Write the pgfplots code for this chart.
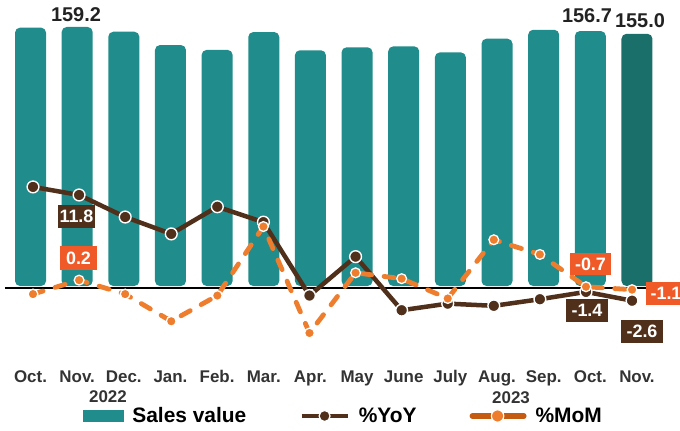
\documentclass[border=0pt]{standalone}
\usepackage{fontspec}
\setmainfont{Liberation Sans}
\usepackage{pgfplots}
\pgfplotsset{compat=1.18}
\definecolor{tealc}{RGB}{32,140,139}
\definecolor{tealdark}{RGB}{27,111,107}
\definecolor{brownc}{RGB}{80,48,27}
\definecolor{orangec}{RGB}{238,125,45}
\definecolor{lblorange}{RGB}{240,90,40}
\definecolor{legorange}{RGB}{197,90,17}
\definecolor{tickgray}{RGB}{51,51,51}
\definecolor{labelblack}{RGB}{34,34,34}
\begin{document}
\begin{tikzpicture}
\useasboundingbox (0,0) rectangle (680bp,431bp);
\begin{axis}[
  at={(7.2bp,71bp)}, anchor=south west, scale only axis, width=653.1bp, height=340bp,
  xmin=-0.5, xmax=13.5, ymin=-45.48, ymax=163.5,
  axis line style={draw=none}, major tick style={draw=none}, major tick length=0pt, ytick=\empty,
  xtick={0,...,13},
  xticklabels={Oct.,Nov.,Dec.,Jan.,Feb.,Mar.,Apr.,May,June,July,Aug.,Sep.,Oct.,Nov.},
  xticklabel style={anchor=base, yshift=-23bp, font=\bfseries\fontsize{17}{17}\selectfont, text=tickgray, inner sep=0pt},
  clip=false,
]
\addplot[ybar, bar width=0.665, bar shift=0pt, fill=tealc, draw=none, rounded corners=5bp] coordinates {
(0,158.8) (1,159.2) (2,156.3) (3,148.1) (4,145.1) (5,156.1) (6,144.9) (7,146.7) (8,147.3) (9,143.6) (10,152.0) (11,157.5) (12,156.7)};
\addplot[ybar, bar width=0.665, bar shift=0pt, fill=tealdark, draw=none, rounded corners=5bp] coordinates {(13,155.0)};
\draw[black, line width=2bp] (axis cs:-0.55,-1) -- (axis cs:13.5,-1);
\end{axis}
\begin{axis}[
  at={(7.2bp,71bp)}, anchor=south west, scale only axis, width=653.1bp, height=340bp,
  xmin=-0.56, xmax=13.613, ymin=-10.68, ymax=35.64,
  hide axis, clip=false,
  legend columns=3, legend cell align=left,
  legend style={at={(0.116,-0.1647)}, anchor=west, draw=none, fill=none, inner sep=0pt, outer sep=0pt,
    font=\bfseries\fontsize{21}{21}\selectfont, text=black, nodes={inner sep=0pt},
    /tikz/every odd column/.append style={column sep=9bp},
    /tikz/every even column/.append style={column sep=53bp}},
]
\addlegendimage{legend image code/.code={\fill[tealc] (0bp,-5.5bp) rectangle (40bp,5.5bp);}}
\addlegendentry{Sales value}
\addplot[brownc, line width=4.5bp, mark=*, mark size=5.9bp,
  mark options={fill=brownc, draw=white, line width=1.4bp},
  legend image code/.code={\draw[brownc, solid, line width=4.5bp] (0bp,0bp) -- (46bp,0bp);
    \draw[white, fill=brownc, solid, line width=1.2bp] (23bp,0bp) circle (5.5bp);}] coordinates {
(0,12.9) (1,11.8) (2,8.8) (3,6.5) (4,10.2) (5,8.1) (6,-1.9) (7,3.4) (8,-3.9) (9,-3.0) (10,-3.3) (11,-2.4) (12,-1.4) (13,-2.6)};
\addlegendentry{\%YoY}
\addplot[orangec, line width=4.8bp, line cap=round, dash pattern=on 10.5bp off 12.5bp, mark=*, mark size=4.9bp,
  mark options={solid, fill=orangec, draw=white, line width=1.3bp},
  legend image code/.code={\draw[legorange, solid, line width=5.5bp, line cap=round] (2.75bp,0bp) -- (54.25bp,0bp);
    \draw[white, fill=orangec, solid, line width=1.2bp] (28bp,0bp) circle (6.2bp);}] coordinates {
(0,-1.7) (1,0.2) (2,-1.7) (3,-5.4) (4,-1.9) (5,7.5) (6,-7.0) (7,1.2) (8,0.4) (9,-2.3) (10,5.7) (11,3.7) (12,-0.7) (13,-1.1)};
\addlegendentry{\%MoM}
\end{axis}
\tikzset{lb/.style={font=\bfseries\fontsize{18}{18}\selectfont, text=white, inner sep=0pt, minimum height=23bp}}
\node[lb, fill=brownc, minimum width=37bp] at (76.5bp,214.5bp) {11.8};
\node[lb, fill=lblorange, minimum width=37bp, minimum height=24bp] at (78.5bp,173bp) {0.2};
\node[lb, fill=lblorange, minimum width=41bp, minimum height=22bp] at (590.5bp,167bp) {-0.7};
\node[lb, fill=brownc, minimum width=42bp] at (587bp,120.5bp) {-1.4};
\node[lb, fill=brownc, minimum width=42bp] at (642bp,99.5bp) {-2.6};
\node[lb, fill=lblorange, minimum width=40bp] at (666bp,137.5bp) {-1.1};
\node[anchor=base, font=\bfseries\fontsize{20}{20}\selectfont, text=labelblack] at (76bp,409.3bp) {159.2};
\node[anchor=base, font=\bfseries\fontsize{20}{20}\selectfont, text=labelblack] at (587bp,408.3bp) {156.7};
\node[anchor=base, font=\bfseries\fontsize{20}{20}\selectfont, text=labelblack] at (640bp,403.7bp) {155.0};
\node[anchor=base, font=\bfseries\fontsize{17}{17}\selectfont, text=tickgray] at (108bp,29bp) {2022};
\node[anchor=base, font=\bfseries\fontsize{17}{17}\selectfont, text=tickgray] at (511bp,28bp) {2023};
\end{tikzpicture}
\end{document}
